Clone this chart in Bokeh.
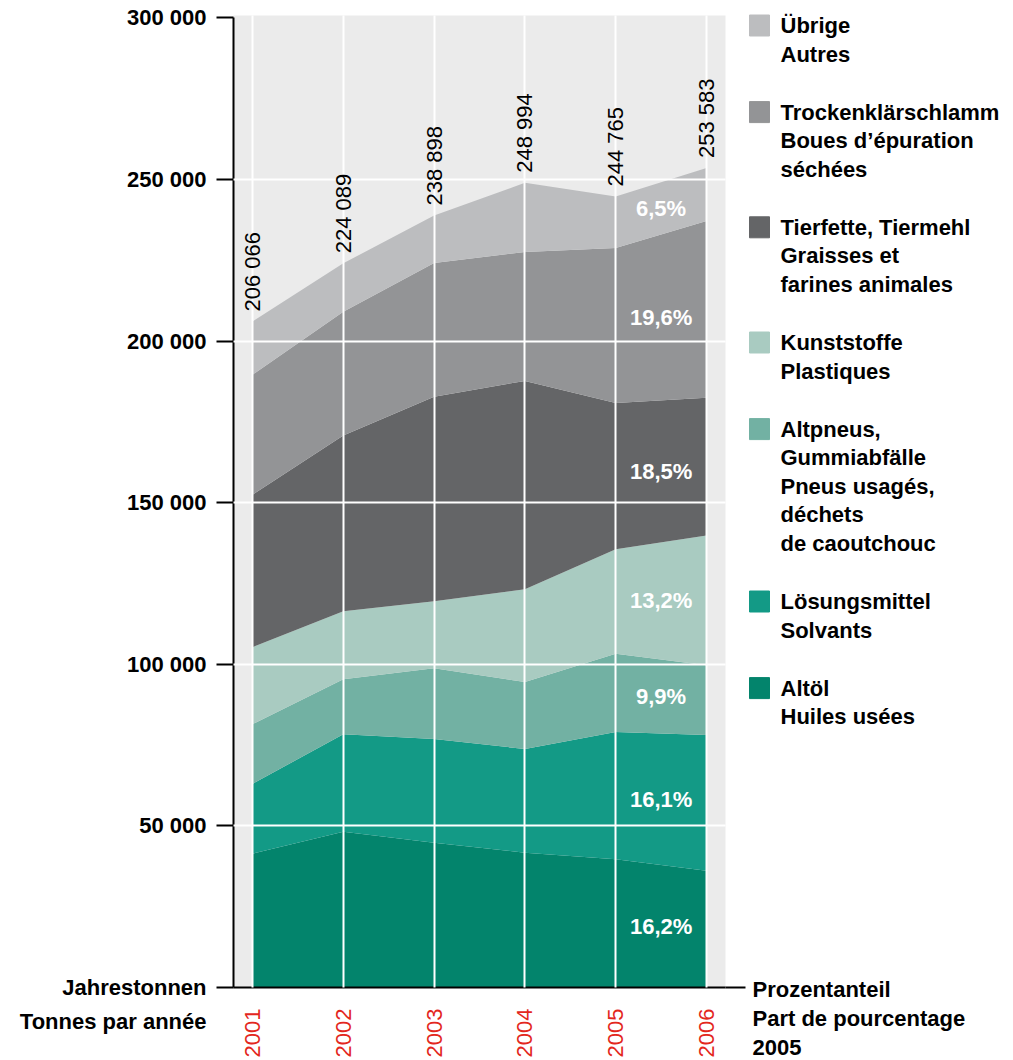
import numpy as np
from bokeh.plotting import figure
from bokeh.models import ColumnDataSource, Range1d, FixedTicker, LinearAxis
from bokeh.layouts import row
from bokeh.core.properties import value
from bokeh.embed import file_html
from bokeh.resources import INLINE

FONT = "Liberation Sans"

# ---------------- data ----------------
years = [2001, 2002, 2003, 2004, 2005, 2006]
totals = [206066, 224089, 238898, 248994, 244765, 253583]

altoel = [41400, 48200, 44800, 41700, 39650, 36100]
loesungsmittel = [21600, 30200, 32100, 32100, 39410, 42000]
altpneus = [18500, 17000, 21900, 20700, 24230, 21600]
kunststoffe = [23800, 21000, 20700, 28700, 32310, 40200]
tierfette = [47200, 54400, 63300, 64500, 45280, 42600]
trocken = [37100, 38300, 41400, 39900, 47970, 54700]
uebrige = [16466, 14989, 14698, 21394, 15915, 16383]

# shares 2005, bottom to top
pct_2005 = ["16,2%", "16,1%", "9,9%", "13,2%", "18,5%", "19,6%", "6,5%"]

series_keys = ["altoel", "loesungsmittel", "altpneus", "kunststoffe", "tierfette", "trocken", "uebrige"]
colors = ["#03846c", "#139a86", "#72b1a3", "#a9cbc1", "#646567", "#939496", "#bcbdbf"]

legend_labels = [
    ["Übrige", "Autres"],
    ["Trockenklärschlamm", "Boues d\u2019épuration", "séchées"],
    ["Tierfette, Tiermehl", "Graisses et", "farines animales"],
    ["Kunststoffe", "Plastiques"],
    ["Altpneus,", "Gummiabfälle", "Pneus usagés,", "déchets", "de caoutchouc"],
    ["Lösungsmittel", "Solvants"],
    ["Altöl", "Huiles usées"],
]

ytick_values = [0, 50000, 100000, 150000, 200000, 250000, 300000]
ytick_labels = ["\u00a0\nJahrestonnen\nTonnes par année", "50 000", "100 000", "150 000",
                "200 000", "250 000", "300 000"]
right_notes = ["Prozentanteil", "Part de pourcentage", "2005"]

# ---------------- layout ----------------
W_MAIN, W_LEG, H = 748, 265, 1060
MB_L, MB_R, MB_T, MB_B = 233, 23, 15, 71
Y_END = 300770
X_START, X_END = 2000.7907, 2006.2093

source = ColumnDataSource(dict(
    year=years, altoel=altoel, loesungsmittel=loesungsmittel, altpneus=altpneus,
    kunststoffe=kunststoffe, tierfette=tierfette, trocken=trocken, uebrige=uebrige))

p = figure(width=W_MAIN, height=H, x_range=Range1d(X_START, X_END), y_range=Range1d(0, Y_END),
           toolbar_location=None, output_backend="svg",
           min_border_left=MB_L, min_border_right=MB_R, min_border_top=MB_T, min_border_bottom=MB_B,
           background_fill_color="#ebebeb", border_fill_color="white", outline_line_color=None)
p.frame_align = False

p.varea_stack(stackers=series_keys, x="year", color=colors, source=source)

# grid on top of the areas
p.xgrid.ticker = FixedTicker(ticks=years)
p.ygrid.ticker = FixedTicker(ticks=ytick_values[1:-1])
for g in (p.xgrid, p.ygrid):
    g.grid_line_color = "white"
    g.grid_line_width = 2
    g.level = "guide"

# left axis
p.yaxis.ticker = FixedTicker(ticks=ytick_values)
p.yaxis.major_label_overrides = dict(zip(ytick_values, ytick_labels))
p.yaxis.bounds = (0, 300000)
p.yaxis.axis_line_color = "black"
p.yaxis.axis_line_width = 2
p.yaxis.major_tick_out = 17
p.yaxis.major_tick_in = 0
p.yaxis.major_tick_line_width = 2
p.yaxis.major_tick_line_color = "black"
p.yaxis.minor_tick_out = 0
p.yaxis.minor_tick_in = 0
p.yaxis.major_label_standoff = 10
p.yaxis.major_label_text_font = FONT
p.yaxis.major_label_text_font_size = "22px"
p.yaxis.major_label_text_font_style = "bold"
p.yaxis.major_label_text_color = "black"
p.yaxis.major_label_text_line_height = 1.36

# bottom axis
p.xaxis.ticker = FixedTicker(ticks=years)
p.xaxis.major_label_overrides = {y: str(y) for y in years}
p.xaxis.major_label_orientation = np.pi / 2
p.xaxis.axis_line_color = "black"
p.xaxis.axis_line_width = 2
p.xaxis.major_tick_out = 0
p.xaxis.major_tick_in = 0
p.xaxis.minor_tick_out = 0
p.xaxis.minor_tick_in = 0
p.xaxis.major_label_standoff = 21
p.xaxis.major_label_text_font = FONT
p.xaxis.major_label_text_font_size = "22px"
p.xaxis.major_label_text_color = "#e3271d"

# right axis: only the extension of the base line
r_axis = LinearAxis(ticker=FixedTicker(ticks=[0]), axis_line_color=None,
                    major_tick_out=20, major_tick_in=0, major_tick_line_width=2,
                    major_tick_line_color="black", minor_tick_out=0, minor_tick_in=0,
                    major_label_overrides={0: ""}, major_label_standoff=0)
p.add_layout(r_axis, "right")

# totals above the stack
total_text = [f"{t:,}".replace(",", " ") for t in totals]
p.text(x=years, y=totals, text=total_text, angle=np.pi / 2, text_align="left",
       text_baseline="middle", y_offset=-10, text_font=value(FONT), text_font_size="22px",
       text_color="black", level="annotation")

# percentage labels, centred between 2005 and 2006
stack = np.array([altoel, loesungsmittel, altpneus, kunststoffe, tierfette, trocken, uebrige], dtype=float)
cum = np.cumsum(stack, axis=0)
below = cum - stack
mid = (cum + below) / 2
i5, i6 = years.index(2005), years.index(2006)
pct_y = (mid[:, i5] + mid[:, i6]) / 2
p.text(x=[(years[i5] + years[i6]) / 2] * len(pct_2005), y=list(pct_y), text=pct_2005,
       text_align="center", text_baseline="middle", text_font=value(FONT),
       text_font_size="22px", text_font_style="bold", text_color="white", level="annotation")

# ---------------- legend panel (pixel coordinates, y downwards) ----------------
p2 = figure(width=W_LEG, height=H, x_range=Range1d(0, W_LEG), y_range=Range1d(H, 0),
            toolbar_location=None, output_backend="svg", min_border=0,
            x_axis_location=None, y_axis_location=None, outline_line_color=None,
            background_fill_color="white", border_fill_color="white")
p2.frame_align = False
p2.grid.visible = False

line_step, entry_gap = 28.6, 58
y = 25.0
sq_y, tx, ty = [], [], []
for lines in legend_labels:
    sq_y.append(y)
    for ln in lines:
        tx.append(ln)
        ty.append(y)
        y += line_step
    y += entry_gap - line_step

p2.rect(x=11, y=sq_y, width=20, height=21, color=colors[::-1])
p2.text(x=32, y=ty, text=tx, text_align="left", text_baseline="middle",
        text_font=value(FONT), text_font_size="22px", text_font_style="bold", text_color="black")

base_y = H - MB_B
p2.text(x=4, y=[base_y, base_y + 29, base_y + 58], text=right_notes,
        text_align="left", text_baseline="middle", text_font=value(FONT),
        text_font_size="22px", text_font_style="bold", text_color="black")

layout = row(p, p2)
open("out.html", "w").write(file_html(layout, INLINE))
